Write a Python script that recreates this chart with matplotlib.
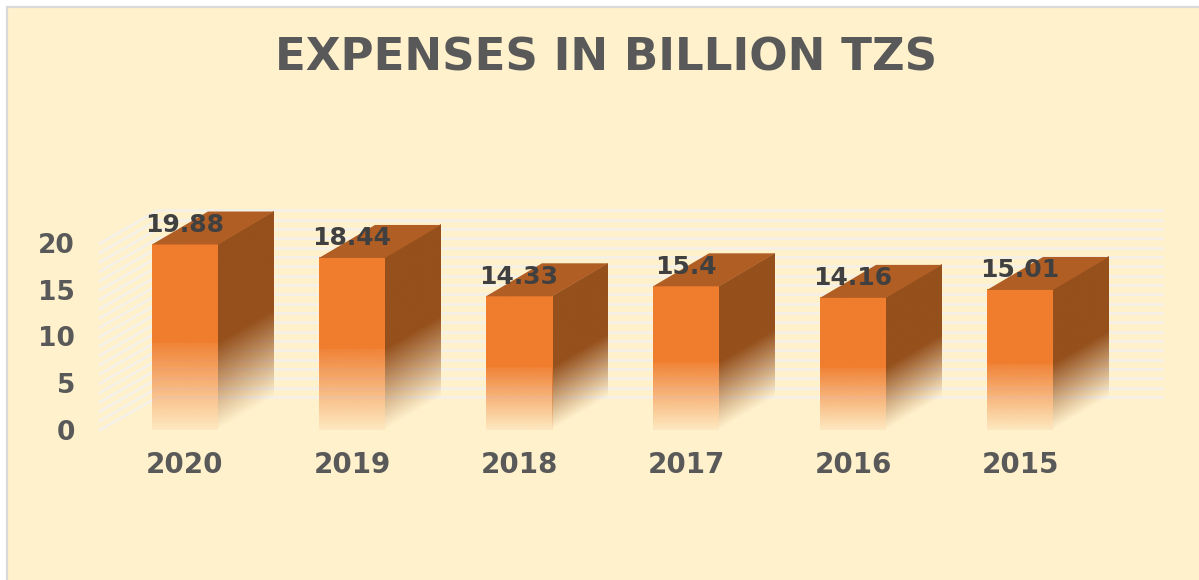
import numpy as np
import matplotlib
matplotlib.use('Agg')
import matplotlib.pyplot as plt
from matplotlib.colors import to_rgb
from matplotlib.patches import Polygon, Rectangle
from matplotlib.transforms import Affine2D

# Data
years = ['2020', '2019', '2018', '2017', '2016', '2015']
expenses = [19.88, 18.44, 14.33, 15.4, 14.16, 15.01]
value_labels = ['19.88', '18.44', '14.33', '15.4', '14.16', '15.01']
y_ticks = [0, 5, 10, 15, 20]
title = 'EXPENSES IN BILLION TZS'

# Layout, one axes over the whole figure
W, H = 1199, 580
px_x = 167.0     # pixels per category
px_y = 9.33      # pixels per value unit
x0, y0 = 185, 430
half = 33 / px_x
dx = 56 / px_x
dy = 33 / px_y

front_col = '#F07D2E'
side_col = '#95501C'
top_col = '#B05E24'
bg_col = '#FFF1CC'
grid_col = '#F3F0EA'
label_col = '#595959'


def fade(color, start, low, jump):
    # vertical gradient, row 0 is the bottom of the face
    t = np.linspace(0, 1, 256)
    alpha = np.where(t >= start, 1.0, jump * (low + (t / start) * (1 - low)))
    rgba = np.ones((256, 1, 4))
    rgba[:, 0, :3] = to_rgb(color)
    rgba[:, 0, 3] = alpha
    return rgba


def face(ax, img, x, y, w, h, shear, z):
    # unit square image mapped on a (sheared) face
    m = np.array([[w, 0, x], [shear, h, y], [0, 0, 1]])
    ax.imshow(img, origin='lower', extent=(0, 1, 0, 1), aspect='auto',
              interpolation='bilinear', zorder=z,
              transform=Affine2D(m) + ax.transData)


fig = plt.figure(figsize=(W / 100, H / 100), dpi=100, facecolor='white')
fig.add_artist(Rectangle((7 / W, -0.02), 1.1, 1.02 - 7 / H, transform=fig.transFigure,
                         facecolor=bg_col, edgecolor='#D9D9D9', linewidth=1.6, zorder=-1))
ax = fig.add_axes([0, 0, 1, 1])
ax.axis('off')

# Walls with a line per unit
wall_left = -85 / px_x
wall_back = wall_left + 58 / px_x
wall_right = 977 / px_x
for v in range(0, 21):
    ax.plot([wall_left, wall_back], [v, v + dy], color=grid_col, lw=1.8, zorder=1)
    ax.plot([wall_back, wall_right], [v + dy, v + dy], color=grid_col, lw=1.8, zorder=1)

# Bars
for i, (val, lab) in enumerate(zip(expenses, value_labels)):
    z = 2 + i
    left = i - half
    right = i + half
    start = 0.47
    face(ax, fade(side_col, start, 0.0, 1.0), right, 0, dx, val, dy, z)
    face(ax, fade(front_col, start, 0.08, 0.95), left, 0, 2 * half, val, 0, z)
    ax.add_patch(Polygon([(left, val), (right, val), (right + dx, val + dy), (left + dx, val + dy)],
                         closed=True, facecolor=top_col, edgecolor='none', zorder=z))
    ax.text(i, val + 2.1, lab, ha='center', va='center', color='#404040',
            fontsize=18, fontweight='bold', family='DejaVu Sans', zorder=20)
    ax.text(i, -3.75, years[i], ha='center', va='center', color=label_col,
            fontsize=20, fontweight='bold', family='DejaVu Sans', zorder=20)

for t in y_ticks:
    ax.text(-110 / px_x, t - 0.3, str(t), ha='right', va='center', color=label_col,
            fontsize=19, fontweight='bold', family='DejaVu Sans', zorder=20)

ax.text((606 - x0) / px_x, (y0 - 58) / px_y, title, ha='center', va='center',
        color=label_col, fontsize=32.5, fontweight='bold', family='DejaVu Sans')

ax.set_xlim(-x0 / px_x, (W - x0) / px_x)
ax.set_ylim(-(H - y0) / px_y, y0 / px_y)

fig.savefig('out.png', dpi=100, facecolor='white')
